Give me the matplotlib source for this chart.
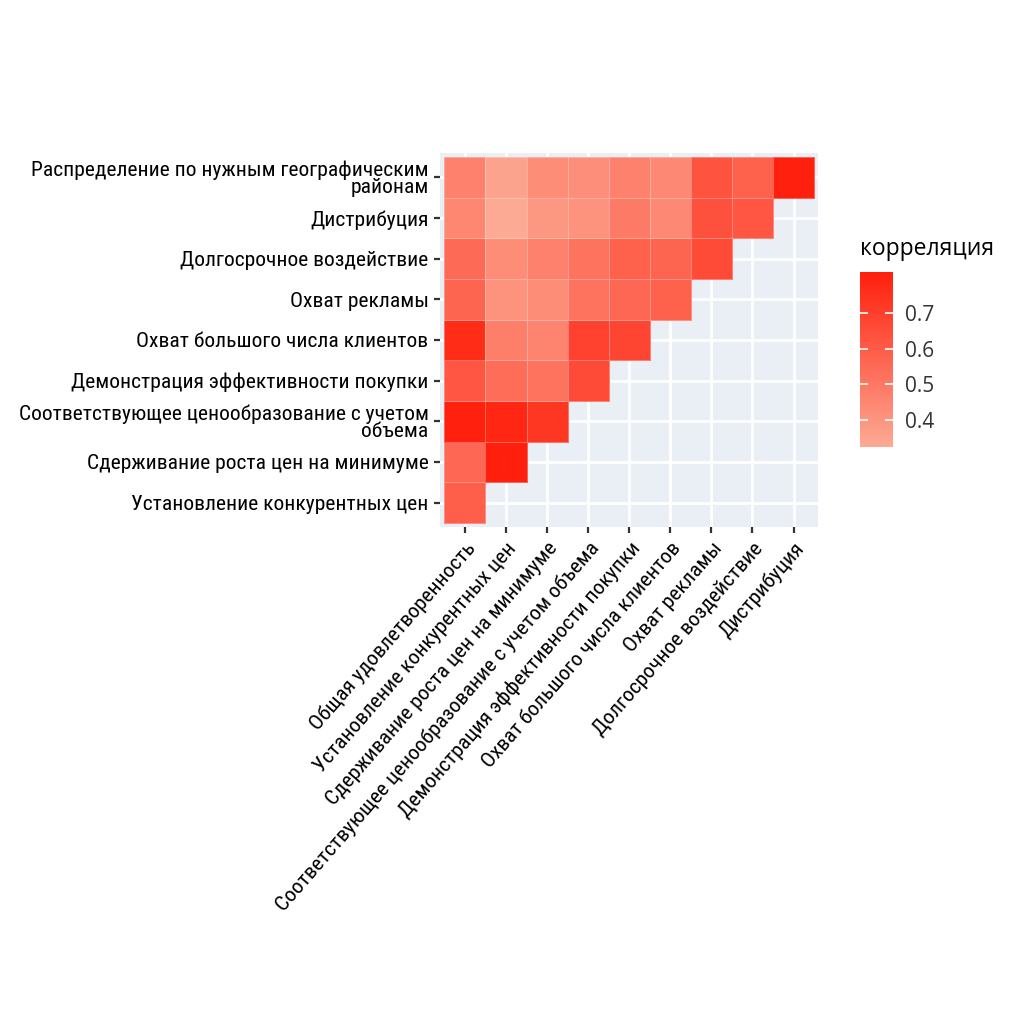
import matplotlib
matplotlib.use("Agg")
import matplotlib.pyplot as plt
import numpy as np
from matplotlib.colors import LinearSegmentedColormap, Normalize
from matplotlib import font_manager
from matplotlib.font_manager import FontProperties

x_labels = [
    "Общая удовлетворенность",
    "Установление конкурентных цен",
    "Сдерживание роста цен на минимуме",
    "Соответствующее ценообразование с учетом объема",
    "Демонстрация эффективности покупки",
    "Охват большого числа клиентов",
    "Охват рекламы",
    "Долгосрочное воздействие",
    "Дистрибуция",
]

# rows from bottom to top
y_labels = [
    "Установление конкурентных цен",
    "Сдерживание роста цен на минимуме",
    "Соответствующее ценообразование с учетом\nобъема",
    "Демонстрация эффективности покупки",
    "Охват большого числа клиентов",
    "Охват рекламы",
    "Долгосрочное воздействие",
    "Дистрибуция",
    "Распределение по нужным географическим\nрайонам",
]

row_ustanovlenie = [0.59]
row_sderzhivanie = [0.56, 0.815]
row_sootvetstv = [0.81, 0.79, 0.73]
row_demonstr = [0.62, 0.54, 0.52, 0.66]
row_ohvat_klient = [0.77, 0.48, 0.46, 0.69, 0.68]
row_ohvat_reklamy = [0.57, 0.41, 0.43, 0.52, 0.56, 0.58]
row_dolgosroch = [0.55, 0.43, 0.47, 0.52, 0.58, 0.57, 0.66]
row_distrib = [0.45, 0.325, 0.39, 0.41, 0.49, 0.44, 0.64, 0.62]
row_raspredel = [0.47, 0.35, 0.43, 0.42, 0.47, 0.44, 0.63, 0.58, 0.81]

rows = [row_ustanovlenie, row_sderzhivanie, row_sootvetstv, row_demonstr,
        row_ohvat_klient, row_ohvat_reklamy, row_dolgosroch, row_distrib,
        row_raspredel]

legend_title = "корреляция"
legend_ticks = [0.4, 0.5, 0.6, 0.7]

# ---- fonts: prefer a narrow sans for axis labels
def find_font(patterns):
    for pat in patterns:
        for f in font_manager.fontManager.ttflist:
            fn = f.fname.replace("-", "").replace("_", "").lower()
            if pat in fn and "bold" not in fn and "italic" not in fn and "oblique" not in fn:
                return f.fname
    return None

narrow_path = find_font(["liberationsansnarrowregular", "liberationsansnarrow",
                         "robotocondensedregular", "opensanscondensedregular",
                         "dejavusanscondensed.ttf"])
if narrow_path:
    label_fp = FontProperties(fname=narrow_path)
else:
    label_fp = FontProperties(family="DejaVu Sans")

names = {f.name for f in font_manager.fontManager.ttflist}
legend_family = "Open Sans" if "Open Sans" in names else ("Noto Sans" if "Noto Sans" in names else "DejaVu Sans")

cmap = LinearSegmentedColormap.from_list("corr", ["#FCAA94", "#FF1F0C"])
vmin = min(min(r) for r in rows)
vmax = max(max(r) for r in rows)
norm = Normalize(vmin=vmin, vmax=vmax)

fig = plt.figure(figsize=(10.24, 10.24), dpi=100)

# fit label font size so the longest y label line is ~410 px wide
renderer = fig.canvas.get_renderer()
probe = fig.text(0, 0, "Соответствующее ценообразование с учетом",
                 fontproperties=label_fp, fontsize=14)
w = probe.get_window_extent(renderer).width
probe.remove()
label_size = 14 * 410.0 / w
label_size = min(label_size, 16.5)

ax = fig.add_axes([0.430, 0.4854, 0.369, 0.3652])
ax.set_facecolor("#E9EFF4")

n = len(x_labels)
for i, vals in enumerate(rows):
    xe = np.arange(len(vals) + 1) - 0.5
    ye = np.array([i - 0.5, i + 0.5])
    mesh = ax.pcolormesh(xe, ye, np.array([vals]), cmap=cmap, norm=norm,
                         edgecolors=(1, 1, 1, 0.3), linewidth=0.6, zorder=3)

ax.set_xlim(-0.6, n - 0.4)
ax.set_ylim(-0.6, len(y_labels) - 0.4)
ax.set_xticks(range(n))
ax.set_yticks(range(len(y_labels)))
ax.grid(True, color="white", linewidth=2.0, zorder=0)
ax.set_axisbelow(True)
for s in ax.spines.values():
    s.set_visible(False)
ax.tick_params(axis="both", length=4.5, width=1.6, color="#333333", pad=4)

ax.set_xticklabels(x_labels, rotation=49, ha="right", va="top",
                   rotation_mode="anchor", color="black")
ax.set_yticklabels(y_labels, color="black", linespacing=0.9)
for lab in ax.get_xticklabels() + ax.get_yticklabels():
    lab.set_fontproperties(label_fp)
    lab.set_fontsize(label_size)

cax = fig.add_axes([0.840, 0.5635, 0.032, 0.171])
cb = fig.colorbar(mesh, cax=cax)
cb.outline.set_visible(False)
cb.set_ticks(legend_ticks)
cb.set_ticklabels([f"{t:.1f}" for t in legend_ticks])
cax.tick_params(direction="in", length=6, width=1.2, colors="white",
                left=True, right=True, labelcolor="#333333", labelsize=15, pad=9)
for lab in cax.get_yticklabels():
    lab.set_family(legend_family)
    lab.set_fontsize(15)
fig.text(0.840, 0.757, legend_title, family=legend_family, fontsize=16.5,
         ha="left", va="center", color="black")

fig.savefig("out.png", dpi=100, facecolor="white")
